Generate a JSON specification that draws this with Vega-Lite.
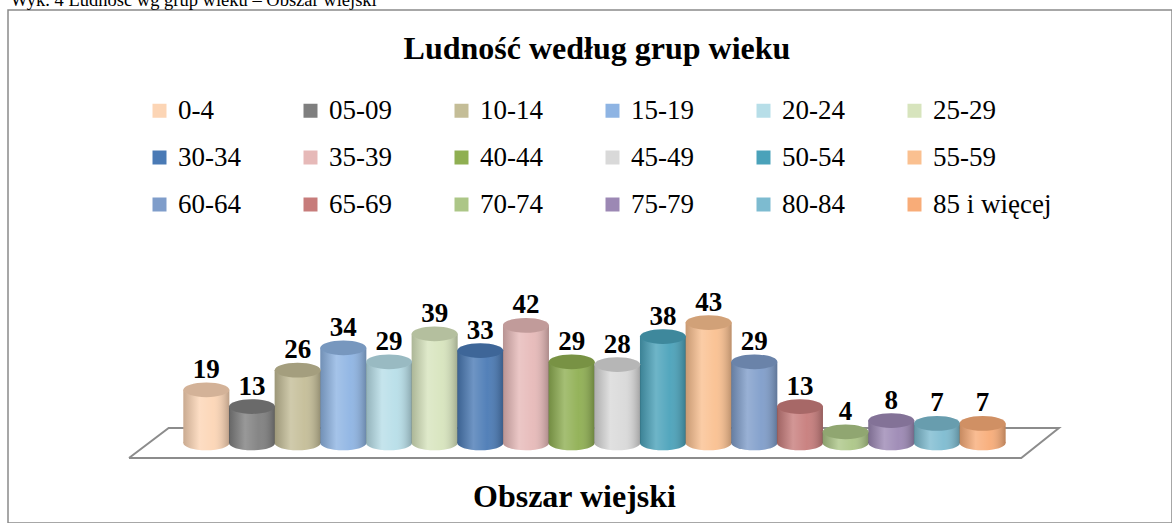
{
  "$schema": "https://vega.github.io/schema/vega-lite/v6.json",
  "autosize": {"type": "none"},
  "width": 1164,
  "height": 513,
  "padding": {"left": 8, "top": 10, "right": 0, "bottom": 0},
  "background": "white",
  "datasets": {
    "bars": [
      {"g": "0-4", "i": 0, "v": 19},
      {"g": "05-09", "i": 1, "v": 13},
      {"g": "10-14", "i": 2, "v": 26},
      {"g": "15-19", "i": 3, "v": 34},
      {"g": "20-24", "i": 4, "v": 29},
      {"g": "25-29", "i": 5, "v": 39},
      {"g": "30-34", "i": 6, "v": 33},
      {"g": "35-39", "i": 7, "v": 42},
      {"g": "40-44", "i": 8, "v": 29},
      {"g": "45-49", "i": 9, "v": 28},
      {"g": "50-54", "i": 10, "v": 38},
      {"g": "55-59", "i": 11, "v": 43},
      {"g": "60-64", "i": 12, "v": 29},
      {"g": "65-69", "i": 13, "v": 13},
      {"g": "70-74", "i": 14, "v": 4},
      {"g": "75-79", "i": 15, "v": 8},
      {"g": "80-84", "i": 16, "v": 7},
      {"g": "85 i więcej", "i": 17, "v": 7}
    ],
    "floor": [
      {"o": 0, "fx": -1.6934, "fy": -5.357},
      {"o": 1, "fx": -0.825, "fy": 5.357},
      {"o": 2, "fx": 18.671, "fy": 5.357},
      {"o": 3, "fx": 17.846, "fy": -5.357},
      {"o": 4, "fx": -1.6934, "fy": -5.357}
    ]
  },
  "resolve": {"axis": {"x": "independent"}},
  "encoding": {
    "x": {
      "type": "quantitative",
      "scale": {"domain": [-4.2336, 21.038], "nice": false, "zero": false}
    },
    "y": {
      "type": "quantitative",
      "scale": {"domain": [-28.57, 154.64], "nice": false, "zero": false},
      "axis": {
        "labels": false, "ticks": false, "domain": false, "grid": false,
        "title": "Wyk. 4 Ludność wg grup wieku – Obszar wiejski",
        "titleFont": "Liberation Serif", "titleFontSize": 18.5, "titleFontWeight": "normal",
        "titleColor": "black", "titleAngle": 0, "titleX": 2, "titleY": -5,
        "titleAlign": "left", "titleBaseline": "alphabetic"
      }
    },
    "color": {
      "field": "g", "type": "nominal",
      "scale": {
        "domain": ["0-4", "05-09", "10-14", "15-19", "20-24", "25-29", "30-34", "35-39", "40-44", "45-49", "50-54", "55-59", "60-64", "65-69", "70-74", "75-79", "80-84", "85 i więcej"],
        "range": ["#FCD5B5", "#7F7F7F", "#C4BD97", "#8EB4E3", "#B7DEE8", "#D7E4BD", "#4A7AB5", "#E6B9B8", "#8FAF52", "#D9D9D9", "#4AA2BA", "#FAC090", "#7F9DCA", "#C77C7B", "#ACC687", "#9C88B4", "#7DBBD0", "#F8AC78"]
      },
      "legend": {
        "orient": "none", "legendX": 138, "legendY": 87, "direction": "horizontal",
        "columns": 6, "gridAlign": "all", "title": null, "padding": 0,
        "symbolType": "square", "symbolSize": 196, "symbolStrokeWidth": 0, "symbolOpacity": 1,
        "labelFont": "Liberation Serif", "labelFontSize": 27, "labelColor": "black",
        "labelOffset": 5, "labelLimit": 300, "columnPadding": 0, "rowPadding": 19
      }
    }
  },
  "layer": [
    {
      "data": {"name": "floor"},
      "mark": {"type": "line", "strokeWidth": 2},
      "encoding": {
        "x": {"field": "fx", "type": "quantitative",
          "axis": {
            "orient": "bottom",
            "labels": false, "ticks": false, "domain": false, "grid": false,
            "title": "Obszar wiejski",
            "titleFont": "Liberation Serif", "titleFontSize": 32, "titleFontWeight": "bold",
            "titleColor": "black", "titleX": 566, "titleY": -17,
            "titleAlign": "center", "titleBaseline": "alphabetic"
          }},
        "y": {"field": "fy", "type": "quantitative"},
        "order": {"field": "o", "type": "quantitative"},
        "color": {"value": "#8c8c8c"}
      }
    },
    {
      "data": {"name": "bars"},
      "mark": {"type": "point", "shape": "M-1,0A1,0.32,0,1,0,1,0A1,0.32,0,1,0,-1,0Z", "filled": true, "opacity": 1, "size": 2116, "strokeWidth": 0},
      "encoding": {
        "x": {"field": "i", "type": "quantitative",
          "axis": {
            "orient": "top",
            "labels": false, "ticks": false, "domain": false, "grid": false,
            "title": "Ludność według grup wieku",
            "titleFont": "Liberation Serif", "titleFontSize": 32, "titleFontWeight": "bold",
            "titleColor": "black", "titleX": 588.5, "titleY": 48,
            "titleAlign": "center", "titleBaseline": "alphabetic"
          }},
        "y": {"datum": 0}
      }
    },
    {
      "data": {"name": "bars"},
      "mark": {"type": "point", "shape": "M-1,0A1,0.32,0,1,0,1,0A1,0.32,0,1,0,-1,0Z", "filled": true, "opacity": 1, "size": 2116, "strokeWidth": 0},
      "encoding": {
        "x": {"field": "i", "type": "quantitative", "axis": null},
        "y": {"datum": 0},
        "color": {"value": {"gradient": "linear", "x1": 0, "y1": 0, "x2": 1, "y2": 0,
          "stops": [
            {"offset": 0, "color": "rgba(0,0,0,0.2)"},
            {"offset": 0.35, "color": "rgba(255,255,255,0.2)"},
            {"offset": 0.65, "color": "rgba(255,255,255,0.05)"},
            {"offset": 1, "color": "rgba(0,0,0,0.25)"}
          ]}}
      }
    },
    {
      "data": {"name": "bars"},
      "mark": {"type": "bar", "width": 46},
      "encoding": {
        "x": {"field": "i", "type": "quantitative", "axis": null},
        "y": {"field": "v", "type": "quantitative"},
        "y2": {"datum": 0}
      }
    },
    {
      "data": {"name": "bars"},
      "mark": {"type": "bar", "width": 46},
      "encoding": {
        "x": {"field": "i", "type": "quantitative", "axis": null},
        "y": {"field": "v", "type": "quantitative"},
        "y2": {"datum": 0},
        "color": {"value": {"gradient": "linear", "x1": 0, "y1": 0, "x2": 1, "y2": 0,
          "stops": [
            {"offset": 0, "color": "rgba(0,0,0,0.2)"},
            {"offset": 0.35, "color": "rgba(255,255,255,0.2)"},
            {"offset": 0.65, "color": "rgba(255,255,255,0.05)"},
            {"offset": 1, "color": "rgba(0,0,0,0.25)"}
          ]}}
      }
    },
    {
      "data": {"name": "bars"},
      "mark": {"type": "point", "shape": "M-1,0A1,0.32,0,1,0,1,0A1,0.32,0,1,0,-1,0Z", "filled": true, "opacity": 1, "size": 2116, "strokeWidth": 0},
      "encoding": {
        "x": {"field": "i", "type": "quantitative", "axis": null},
        "y": {"field": "v", "type": "quantitative"}
      }
    },
    {
      "data": {"name": "bars"},
      "mark": {"type": "point", "shape": "M-1,0A1,0.32,0,1,0,1,0A1,0.32,0,1,0,-1,0Z", "filled": true, "opacity": 0.16, "size": 2116, "strokeWidth": 0},
      "encoding": {
        "x": {"field": "i", "type": "quantitative", "axis": null},
        "y": {"field": "v", "type": "quantitative"},
        "color": {"value": "black"}
      }
    },
    {
      "data": {"name": "bars"},
      "mark": {"type": "text", "font": "Liberation Serif", "fontSize": 27, "fontWeight": "bold", "baseline": "alphabetic", "align": "center", "dy": -12},
      "encoding": {
        "x": {"field": "i", "type": "quantitative", "axis": null},
        "y": {"field": "v", "type": "quantitative"},
        "text": {"field": "v", "type": "quantitative"},
        "color": {"value": "black"}
      }
    }
  ],
  "config": {
    "font": "Liberation Serif",
    "view": {"stroke": "#8a8a8a", "strokeWidth": 1.5},
    "legend": {"labelFont": "Liberation Serif", "labelFontSize": 27, "labelColor": "black"}
  }
}
